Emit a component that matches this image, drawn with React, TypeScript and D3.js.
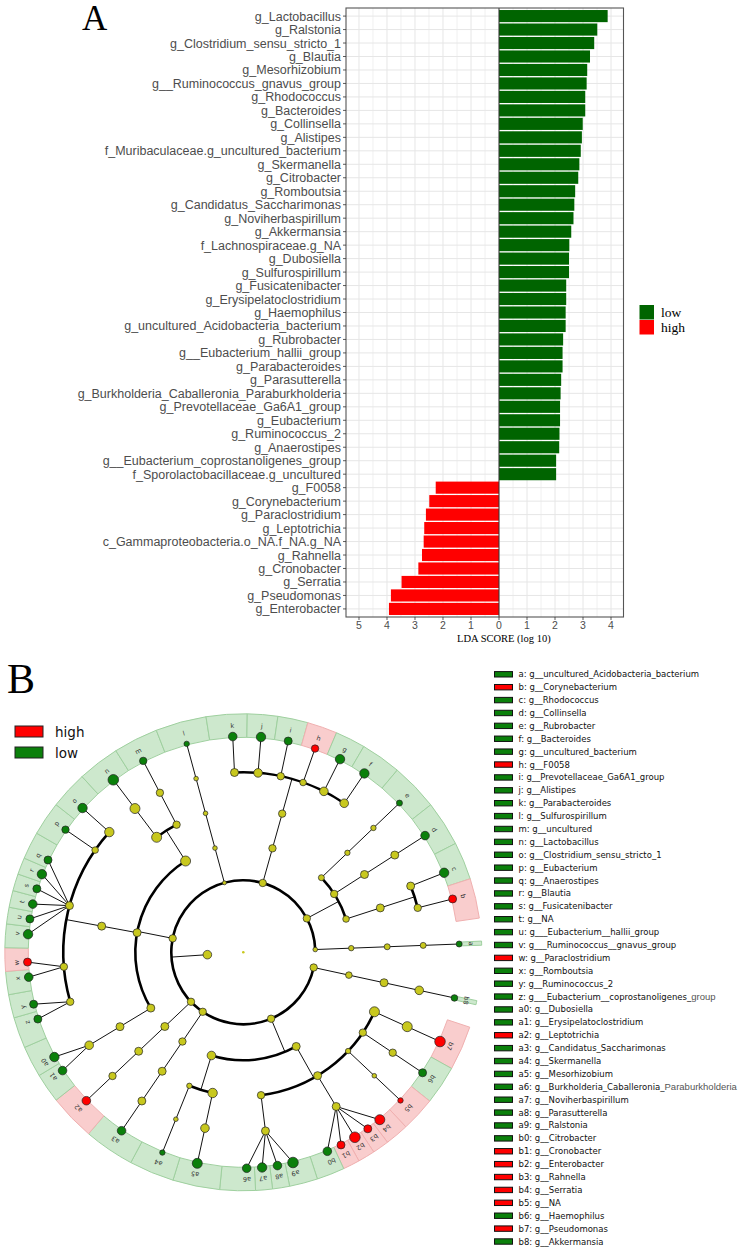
import React from "react";
import * as d3 from "d3";

// ---------------- Panel A data ----------------
const ldaTaxa = [
  "g_Lactobacillus", "g_Ralstonia", "g_Clostridium_sensu_stricto_1", "g_Blautia", "g_Mesorhizobium",
  "g__Ruminococcus_gnavus_group", "g_Rhodococcus", "g_Bacteroides", "g_Collinsella", "g_Alistipes",
  "f_Muribaculaceae.g_uncultured_bacterium", "g_Skermanella", "g_Citrobacter", "g_Romboutsia",
  "g_Candidatus_Saccharimonas", "g_Noviherbaspirillum", "g_Akkermansia", "f_Lachnospiraceae.g_NA",
  "g_Dubosiella", "g_Sulfurospirillum", "g_Fusicatenibacter", "g_Erysipelatoclostridium", "g_Haemophilus",
  "g_uncultured_Acidobacteria_bacterium", "g_Rubrobacter", "g__Eubacterium_hallii_group", "g_Parabacteroides",
  "g_Parasutterella", "g_Burkholderia_Caballeronia_Paraburkholderia", "g_Prevotellaceae_Ga6A1_group",
  "g_Eubacterium", "g_Ruminococcus_2", "g_Anaerostipes", "g__Eubacterium_coprostanoligenes_group",
  "f_Sporolactobacillaceae.g_uncultured", "g_F0058", "g_Corynebacterium", "g_Paraclostridium",
  "g_Leptotrichia", "c_Gammaproteobacteria.o_NA.f_NA.g_NA", "g_Rahnella", "g_Cronobacter", "g_Serratia",
  "g_Pseudomonas", "g_Enterobacter",
];
const ldaScores = [
  3.88, 3.51, 3.4, 3.25, 3.15, 3.13, 3.08, 3.08, 2.99, 2.96, 2.92, 2.87, 2.83, 2.72, 2.69, 2.66, 2.58, 2.51,
  2.5, 2.5, 2.4, 2.4, 2.38, 2.38, 2.29, 2.27, 2.27, 2.22, 2.2, 2.18, 2.18, 2.16, 2.15, 2.04, 2.04,
  2.26, 2.49, 2.61, 2.67, 2.69, 2.75, 2.88, 3.48, 3.86, 3.93,
];
const ldaGroups = [
  ...Array(35).fill("low"),
  ...Array(10).fill("high"),
] as string[];
const ldaTicks = [-5, -4, -3, -2, -1, 0, 1, 2, 3, 4];
const legendGroupsA = ["low", "high"];

// ---------------- Panel B data ----------------
const cladeLetters = [
  "a", "b", "c", "d", "e", "f", "g", "h", "i", "j", "k", "l", "m", "n", "o", "p", "q", "r", "s", "t", "u", "v",
  "w", "x", "y", "z", "a0", "a1", "a2", "a3", "a4", "a5", "a6", "a7", "a8", "a9", "b0", "b1", "b2", "b3", "b4",
  "b5", "b6", "b7", "b8",
];
const cladeGenera = [
  "g__uncultured_Acidobacteria_bacterium", "g__Corynebacterium", "g__Rhodococcus", "g__Collinsella",
  "g__Rubrobacter", "g__Bacteroides", "g__uncultured_bacterium", "g__F0058", "g__Prevotellaceae_Ga6A1_group",
  "g__Alistipes", "g__Parabacteroides", "g__Sulfurospirillum", "g__uncultured", "g__Lactobacillus",
  "g__Clostridium_sensu_stricto_1", "g__Eubacterium", "g__Anaerostipes", "g__Blautia", "g__Fusicatenibacter",
  "g__NA", "g___Eubacterium__hallii_group", "g___Ruminococcus__gnavus_group", "g__Paraclostridium",
  "g__Romboutsia", "g__Ruminococcus_2", "g___Eubacterium__coprostanoligenes_group", "g__Dubosiella",
  "g__Erysipelatoclostridium", "g__Leptotrichia", "g__Candidatus_Saccharimonas", "g__Skermanella",
  "g__Mesorhizobium", "g__Burkholderia_Caballeronia_Paraburkholderia", "g__Noviherbaspirillum",
  "g__Parasutterella", "g__Ralstonia", "g__Citrobacter", "g__Cronobacter", "g__Enterobacter", "g__Rahnella",
  "g__Serratia", "g__NA", "g__Haemophilus", "g__Pseudomonas", "g__Akkermansia",
];
// trailing part of a few legend entries that was typeset differently in the figure
const editedTails: Record<string, string> = { z: "group", a6: "Paraburkholderia" };
const cladeGroups = [
  "low", "high", "low", "low", "low", "low", "low", "high", "low", "low", "low", "low", "low", "low", "low",
  "low", "low", "low", "low", "low", "low", "low", "high", "low", "low", "low", "low", "low", "high", "low",
  "low", "low", "low", "low", "low", "low", "low", "high", "high", "high", "high", "high", "low", "high", "low",
];
// angular position of each genus (degrees clockwise from 12 o'clock)
const cladeAngles = [
  447.8, 435.7, 428.4, 417.3, 406.3, 394.1, 386.6, 379.4, 372.0, 364.7, 357.2, 344.8, 332.4, 323.0, 311.9,
  304.6, 295.3, 291.2, 287.1, 282.9, 278.9, 274.8, 267.4, 263.4, 256.1, 252.0, 241.0, 236.8, 226.6, 214.3,
  202.0, 192.3, 179.1, 175.0, 170.9, 166.7, 157.1, 153.1, 148.9, 144.8, 140.8, 133.3, 123.9, 114.4, 102.2,
];
// abundance-driven node size (radius)
const cladeSizes = [
  3, 4, 4.7, 4.3, 3, 4.7, 4.7, 3.7, 4, 4.7, 4.3, 2.7, 3.7, 5.3, 4.7, 3.7, 4, 4.7, 4, 4.3, 4, 4.7, 4, 4.3, 4, 4,
  4.7, 4.3, 4.3, 4.3, 2.7, 5, 4.3, 4.7, 4.3, 5.3, 4.3, 4, 5.3, 4, 5, 2.7, 4, 5.3, 3.3,
];
const narrowClades = ["a", "b8"];
const ACTINO = ["p__Actinobacteria"];
const BACT = ["p__Bacteroidetes", "c__Bacteroidia", "o__Bacteroidales"];
const CLOS = ["p__Firmicutes", "c__Clostridia", "o__Clostridiales"];
const GAMMA = ["p__Proteobacteria", "c__Gammaproteobacteria"];
const cladeLineages: string[][] = [
  ["p__Acidobacteria", "c__Acidobacteriia", "o__Acidobacteriales", "f__Acidobacteriaceae"],
  [...ACTINO, "c__Actinobacteria", "o__Corynebacteriales", "f__Corynebacteriaceae"],
  [...ACTINO, "c__Actinobacteria", "o__Corynebacteriales", "f__Nocardiaceae"],
  [...ACTINO, "c__Coriobacteriia", "o__Coriobacteriales", "f__Coriobacteriaceae"],
  [...ACTINO, "c__Rubrobacteria", "o__Rubrobacterales", "f__Rubrobacteriaceae"],
  [...BACT, "f__Bacteroidaceae"],
  [...BACT, "f__Muribaculaceae"],
  [...BACT, "f__Paludibacteraceae"],
  [...BACT, "f__Prevotellaceae"],
  [...BACT, "f__Rikenellaceae"],
  [...BACT, "f__Tannerellaceae"],
  ["p__Epsilonbacteraeota", "c__Campylobacteria", "o__Campylobacterales", "f__Arcobacteraceae"],
  ["p__Firmicutes", "c__Bacilli", "o__Bacillales", "f__Sporolactobacillaceae"],
  ["p__Firmicutes", "c__Bacilli", "o__Lactobacillales", "f__Lactobacillaceae"],
  [...CLOS, "f__Clostridiaceae_1"],
  [...CLOS, "f__Eubacteriaceae"],
  [...CLOS, "f__Lachnospiraceae"],
  [...CLOS, "f__Lachnospiraceae"],
  [...CLOS, "f__Lachnospiraceae"],
  [...CLOS, "f__Lachnospiraceae"],
  [...CLOS, "f__Lachnospiraceae"],
  [...CLOS, "f__Lachnospiraceae"],
  [...CLOS, "f__Peptostreptococcaceae"],
  [...CLOS, "f__Peptostreptococcaceae"],
  [...CLOS, "f__Ruminococcaceae"],
  [...CLOS, "f__Ruminococcaceae"],
  ["p__Firmicutes", "c__Erysipelotrichia", "o__Erysipelotrichales", "f__Erysipelotrichaceae"],
  ["p__Firmicutes", "c__Erysipelotrichia", "o__Erysipelotrichales", "f__Erysipelotrichaceae"],
  ["p__Fusobacteria", "c__Fusobacteriia", "o__Fusobacteriales", "f__Leptotrichiaceae"],
  ["p__Patescibacteria", "c__Saccharimonadia", "o__Saccharimonadales", "f__Saccharimonadaceae"],
  ["p__Proteobacteria", "c__Alphaproteobacteria", "o__Azospirillales", "f__Azospirillaceae"],
  ["p__Proteobacteria", "c__Alphaproteobacteria", "o__Rhizobiales", "f__Rhizobiaceae"],
  [...GAMMA, "o__Betaproteobacteriales", "f__Burkholderiaceae"],
  [...GAMMA, "o__Betaproteobacteriales", "f__Burkholderiaceae"],
  [...GAMMA, "o__Betaproteobacteriales", "f__Burkholderiaceae"],
  [...GAMMA, "o__Betaproteobacteriales", "f__Burkholderiaceae"],
  [...GAMMA, "o__Enterobacteriales", "f__Enterobacteriaceae"],
  [...GAMMA, "o__Enterobacteriales", "f__Enterobacteriaceae"],
  [...GAMMA, "o__Enterobacteriales", "f__Enterobacteriaceae"],
  [...GAMMA, "o__Enterobacteriales", "f__Enterobacteriaceae"],
  [...GAMMA, "o__Enterobacteriales", "f__Enterobacteriaceae"],
  [...GAMMA, "o__NA", "f__NA"],
  [...GAMMA, "o__Pasteurellales", "f__Pasteurellaceae"],
  [...GAMMA, "o__Pseudomonadales", "f__Pseudomonadaceae"],
  ["p__Verrucomicrobia", "c__Verrucomicrobiae", "o__Verrucomicrobiales", "f__Akkermansiaceae"],
];
const nodeSizes: Record<string, number> = {
  root: 1.3, k__Bacteria: 4.3,
  p__Acidobacteria: 2.3, c__Acidobacteriia: 2.7, o__Acidobacteriales: 3, f__Acidobacteriaceae: 3,
  p__Actinobacteria: 3.7, c__Actinobacteria: 3.3, o__Corynebacteriales: 4, f__Corynebacteriaceae: 3.7,
  f__Nocardiaceae: 4, c__Coriobacteriia: 3.7, o__Coriobacteriales: 4, f__Coriobacteriaceae: 4,
  c__Rubrobacteria: 3, o__Rubrobacterales: 2.7, f__Rubrobacteriaceae: 2.7,
  p__Bacteroidetes: 3.7, c__Bacteroidia: 3.7, o__Bacteroidales: 3.7, f__Bacteroidaceae: 4.3,
  f__Muribaculaceae: 4.3, f__Paludibacteraceae: 3.3, f__Prevotellaceae: 3.7, f__Rikenellaceae: 4.3,
  f__Tannerellaceae: 4,
  p__Epsilonbacteraeota: 2, c__Campylobacteria: 2.3, o__Campylobacterales: 2.3, f__Arcobacteraceae: 2.3,
  p__Firmicutes: 3.7, c__Bacilli: 5, o__Lactobacillales: 5, f__Lactobacillaceae: 5, o__Bacillales: 3.7,
  f__Sporolactobacillaceae: 3.7, c__Clostridia: 4, o__Clostridiales: 4, f__Clostridiaceae_1: 4.7,
  f__Eubacteriaceae: 3.3, f__Lachnospiraceae: 4, f__Peptostreptococcaceae: 3.7, f__Ruminococcaceae: 3.7,
  c__Erysipelotrichia: 4, o__Erysipelotrichales: 4, f__Erysipelotrichaceae: 4.3,
  p__Fusobacteria: 3.7, c__Fusobacteriia: 4, o__Fusobacteriales: 4, f__Leptotrichiaceae: 3.7,
  p__Patescibacteria: 3.7, c__Saccharimonadia: 3.7, o__Saccharimonadales: 4, f__Saccharimonadaceae: 4,
  p__Proteobacteria: 3.7, c__Alphaproteobacteria: 4.3, o__Azospirillales: 2.7, f__Azospirillaceae: 2.3,
  o__Rhizobiales: 4.7, f__Rhizobiaceae: 4.3, c__Gammaproteobacteria: 4, o__Betaproteobacteriales: 3.7,
  f__Burkholderiaceae: 4, o__Enterobacteriales: 4, f__Enterobacteriaceae: 4, o__NA: 2.7, f__NA: 2.3,
  o__Pasteurellales: 3.7, f__Pasteurellaceae: 3.7, o__Pseudomonadales: 5, f__Pseudomonadaceae: 5,
  p__Verrucomicrobia: 3.7, c__Verrucomicrobiae: 3.3, o__Verrucomicrobiales: 4, f__Akkermansiaceae: 4.3,
};

const COL = { low: "#006400", high: "#ff0000" } as Record<string, string>;
const NODE_COL = { low: "#0b800b", high: "#ff0000" } as Record<string, string>;
const RING_FILL = { low: "#cde8cd", high: "#f9cdcd" } as Record<string, string>;
const RING_STROKE = { low: "#9fd09f", high: "#f0b0b0" } as Record<string, string>;
const SANS = "'Liberation Sans', Arial, sans-serif";
const SERIF = "'Liberation Serif', 'Times New Roman', serif";
const DEJAVU = "'DejaVu Sans', sans-serif";

type Row = { id: string; parentId: string | null };

function PanelA() {
  const x = d3.scaleLinear().domain([-5.464, 4.446]).range([346, 623.5]);
  const y = d3.scalePoint<string>().domain(ldaTaxa).range([8, 617]).padding(0.6);
  const bh = y.step() * 0.9;
  const top = 8, bottom = 617;
  const grid = d3.range(-5, 4.5, 0.5);
  const signed = ldaScores.map((v, i) => (ldaGroups[i] === "high" ? -v : v));
  return (
    <g>
      <text x={82} y={30} fontFamily={SERIF} fontSize={35} fill="#000">A</text>
      <rect x={x.range()[0]} y={top} width={x.range()[1] - x.range()[0]} height={bottom - top} fill="#fff" />
      {grid.map((g) => (
        <line key={"gx" + g} x1={x(g)} x2={x(g)} y1={top} y2={bottom}
          stroke={Number.isInteger(g) ? "#e6e6e6" : "#f0f0f0"} strokeWidth={1} />
      ))}
      {ldaTaxa.map((t) => (
        <line key={"gy" + t} x1={x.range()[0]} x2={x.range()[1]} y1={y(t)} y2={y(t)} stroke="#e6e6e6" strokeWidth={1} />
      ))}
      {ldaTaxa.map((t, i) => (
        <rect key={"bar" + t} x={Math.min(x(0), x(signed[i]))} y={(y(t) as number) - bh / 2}
          width={Math.abs(x(signed[i]) - x(0))} height={bh} fill={COL[ldaGroups[i]]} />
      ))}
      <line x1={x(0)} x2={x(0)} y1={top} y2={bottom} stroke="#333" strokeWidth={1} />
      <rect x={x.range()[0]} y={top} width={x.range()[1] - x.range()[0]} height={bottom - top}
        fill="none" stroke="#555" strokeWidth={1.1} />
      {ldaTaxa.map((t) => (
        <g key={"lab" + t}>
          <line x1={x.range()[0] - 3} x2={x.range()[0]} y1={y(t)} y2={y(t)} stroke="#333" strokeWidth={0.8} />
          <text x={x.range()[0] - 5} y={y(t)} dy="0.36em" textAnchor="end" fontFamily={SANS} fontSize={12.5}
            fill="#4d4d4d">{t}</text>
        </g>
      ))}
      {ldaTicks.map((t) => (
        <g key={"tk" + t}>
          <line x1={x(t)} x2={x(t)} y1={bottom} y2={bottom + 3} stroke="#333" strokeWidth={0.8} />
          <text x={x(t)} y={bottom + 12} textAnchor="middle" fontFamily={SANS} fontSize={10.5} fill="#4d4d4d">
            {Math.abs(t)}
          </text>
        </g>
      ))}
      <text x={457} y={642} fontFamily={SERIF} fontSize={10.5} fill="#000">LDA SCORE (log 10)</text>
      {legendGroupsA.map((g, i) => (
        <g key={"lg" + g}>
          <rect x={639.5} y={305 + i * 15} width={14.5} height={14.5} fill={COL[g]} />
          <text x={661} y={317 + i * 15} fontFamily={SERIF} fontSize={13.5} fill="#000">{g}</text>
        </g>
      ))}
    </g>
  );
}

function PanelB() {
  const CX = 243.3, CY = 952.3;
  const LEVEL = 36;
  const R_IN = 215, R_OUT = 238.5, R_LAB = 227;
  const rad = (deg: number) => (deg * Math.PI) / 180;

  // build taxonomy table
  const rows: Row[] = [{ id: "root", parentId: null }, { id: "k__Bacteria", parentId: "root" }];
  const seen = new Set(["root", "k__Bacteria"]);
  cladeLetters.forEach((l, i) => {
    const lin = ["k__Bacteria", ...cladeLineages[i]];
    for (let j = 1; j < lin.length; j++) {
      if (!seen.has(lin[j])) {
        seen.add(lin[j]);
        rows.push({ id: lin[j], parentId: lin[j - 1] });
      }
    }
    rows.push({ id: l, parentId: lin[lin.length - 1] });
  });
  const root = d3.stratify<Row>().id((d) => d.id).parentId((d) => d.parentId)(rows);
  const idx = new Map(cladeLetters.map((l, i) => [l, i]));
  const angleOf = new Map<string, number>();
  root.eachAfter((n) => {
    if (!n.children) angleOf.set(n.id as string, cladeAngles[idx.get(n.id as string) as number]);
    else angleOf.set(n.id as string, d3.mean(n.leaves(), (l) => angleOf.get(l.id as string)) as number);
  });
  const rScale = d3.scaleLinear().domain([0, 6]).range([0, 6 * LEVEL]);
  const pos = (deg: number, r: number) => {
    const [px, py] = d3.pointRadial(rad(deg), r);
    return [CX + px, CY + py];
  };

  // ring segments
  const order = d3.sort(cladeLetters.map((l, i) => i), (i) => cladeAngles[i]);
  const segs = order.map((i, k) => {
    const a = cladeAngles[i];
    const prev = k === 0 ? cladeAngles[order[order.length - 1]] - 360 : cladeAngles[order[k - 1]];
    const next = k === order.length - 1 ? cladeAngles[order[0]] + 360 : cladeAngles[order[k + 1]];
    const narrow = narrowClades.includes(cladeLetters[i]);
    return { i, lo: narrow ? a - 0.5 : (prev + a) / 2, hi: narrow ? a + 0.5 : (a + next) / 2 };
  });
  const ringArc = d3.arc<any>().innerRadius(R_IN).outerRadius(R_OUT);

  const thin: string[] = [];
  const thick: string[] = [];
  root.descendants().forEach((n) => {
    if (!n.children || n.depth === 0) return;
    const th = angleOf.get(n.id as string) as number;
    const r = rScale(n.depth);
    const rc = rScale(n.depth + 1);
    if (n.depth === 5) {
      n.children.forEach((c) => {
        const [x1, y1] = pos(th, r);
        const [x2, y2] = pos(angleOf.get(c.id as string) as number, rc);
        thin.push(`M${x1},${y1}L${x2},${y2}`);
      });
    } else {
      const [x1, y1] = pos(th, r);
      const [x2, y2] = pos(th, rc);
      thin.push(`M${x1},${y1}L${x2},${y2}`);
      const cAngles = n.children.map((c) => angleOf.get(c.id as string) as number);
      const lo = Math.min(th, ...cAngles);
      const hi = Math.max(th, ...cAngles);
      if (hi - lo > 0.2) {
        const p = d3.path();
        p.arc(CX, CY, rc, rad(lo - 90), rad(hi - 90), false);
        thick.push(p.toString());
      }
    }
  });

  const rowY = d3.scaleLinear().domain([0, cladeLetters.length - 1]).range([674.3, 1241.5]);

  return (
    <g>
      <text x={7} y={693} fontFamily={SERIF} fontSize={42} fill="#000">B</text>
      {legendGroupsA.slice().reverse().map((g, i) => (
        <g key={"lgb" + g}>
          <rect x={15} y={726 + i * 21} width={28} height={11} fill={NODE_COL[g]}
            stroke="#222" strokeWidth={1} />
          <text x={55} y={737 + i * 20.5} fontFamily={DEJAVU} fontSize={13.5} fill="#111">{g}</text>
        </g>
      ))}
      {segs.map((s) => (
        <path key={"seg" + s.i} transform={`translate(${CX},${CY})`}
          d={ringArc({ startAngle: rad(s.lo), endAngle: rad(s.hi) }) as string}
          fill={RING_FILL[cladeGroups[s.i]]} stroke={RING_STROKE[cladeGroups[s.i]]} strokeWidth={1} />
      ))}
      {segs.map((s) => {
        const a = cladeAngles[s.i];
        const [lx, ly] = pos(a, narrowClades.includes(cladeLetters[s.i]) ? R_LAB + 1 : R_LAB);
        return (
          <text key={"sl" + s.i} transform={`translate(${lx},${ly}) rotate(${a})`} textAnchor="middle"
            dy="0.35em" fontFamily={DEJAVU} fontSize={6.5} fill="#333">{cladeLetters[s.i]}</text>
        );
      })}
      {thin.map((d, k) => <path key={"tl" + k} d={d} fill="none" stroke="#111" strokeWidth={1} />)}
      {thick.map((d, k) => <path key={"tk" + k} d={d} fill="none" stroke="#000" strokeWidth={2.6} />)}
      {root.descendants().map((n) => {
        const id = n.id as string;
        const [px, py] = pos(angleOf.get(id) as number, rScale(n.depth));
        const isLeaf = !n.children;
        const i = idx.get(id);
        const size = isLeaf ? cladeSizes[i as number] : nodeSizes[id] ?? 3;
        const fill = isLeaf ? NODE_COL[cladeGroups[i as number]] : "#c8c81e";
        return (
          <circle key={"n" + id} cx={n.depth === 0 ? CX : px} cy={n.depth === 0 ? CY : py} r={size} fill={fill}
            stroke={n.depth === 0 ? "none" : "#222"} strokeWidth={0.7} />
        );
      })}
      {cladeLetters.map((l, i) => {
        const yy = rowY(i);
        const full = `${l}: ${cladeGenera[i]}`;
        const tail = editedTails[l];
        const head = tail ? full.slice(0, full.length - tail.length) : full;
        return (
          <g key={"leg" + l}>
            <rect x={494.5} y={yy - 2.7} width={18} height={5.4} fill={NODE_COL[cladeGroups[i]]} stroke="#111"
              strokeWidth={1} />
            <text x={518.5} y={yy + 3} fontFamily={DEJAVU} fontSize={8.5} fill="#111">
              {head}
              {tail ? <tspan fontFamily={SANS} fontSize={9.5} fill="#555">{tail}</tspan> : null}
            </text>
          </g>
        );
      })}
    </g>
  );
}

export default function App() {
  return (
    <svg width={741} height={1249} viewBox="0 0 741 1249"
      style={{ position: "absolute", left: 0, top: 0, background: "#fff" }}>
      <rect x={0} y={0} width={741} height={1249} fill="#fff" />
      <PanelA />
      <PanelB />
    </svg>
  );
}
